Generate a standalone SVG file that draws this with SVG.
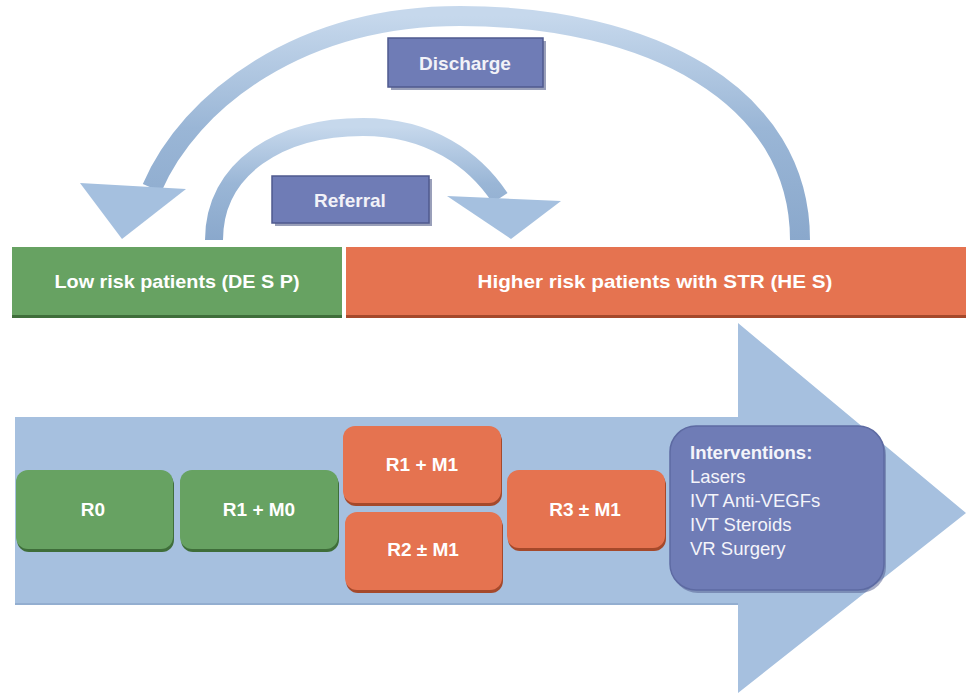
<svg xmlns="http://www.w3.org/2000/svg" width="966" height="695" viewBox="0 0 966 695">
<defs>
<style>
.lbl{font-family:"Liberation Sans",Arial,sans-serif;font-weight:bold;fill:#ffffff;text-anchor:middle;dominant-baseline:central}
.tag{font-family:"Liberation Sans",Arial,sans-serif;font-weight:bold;fill:#f2f2f8;text-anchor:middle;dominant-baseline:central;font-size:19px}
.green{fill:#67a262}
.greenS{fill:#3f6e3a}
.orange{fill:#e57350}
.orangeS{fill:#a5492b}
.purple{fill:#6f7cb6;stroke:#4f5a8e;stroke-width:1.5}
.arc{fill:none;stroke:url(#arcg);stroke-width:20}
.head{fill:#a5c0df}
.iv{font-family:"Liberation Sans",Arial,sans-serif;fill:#f4f4fa;font-size:18.5px}
</style>
<linearGradient id="arcg" x1="0" y1="0" x2="0" y2="1">
<stop offset="0" stop-color="#c6d8ec"/>
<stop offset="0.5" stop-color="#9ab6d6"/>
<stop offset="1" stop-color="#8aa8cc"/>
</linearGradient>
</defs>
<rect width="966" height="695" fill="#ffffff"/>

<g id="connectors">
<path class="arc" d="M 800 240 C 800 95 650 16 460 16 C 300 16 190 100 152 188"/>
<polygon class="head" points="80,183 186,189 122,239"/>
<path class="arc" style="stroke-width:18" d="M 214 240 C 214 168 280 127 363 127 C 430 127 475 160 500 198"/>
<polygon class="head" points="447,196 561,201 511,239"/>
</g>

<g id="discharge">
<rect x="391" y="41" width="155" height="49" fill="#555f8a" opacity="0.6"/>
<rect x="388" y="38" width="155" height="49" class="purple"/>
<text class="tag" x="465" y="63">Discharge</text>
</g>
<g id="referral">
<rect x="275" y="179" width="157" height="47" fill="#555f8a" opacity="0.6"/>
<rect x="272" y="176" width="157" height="47" class="purple"/>
<text class="tag" x="350" y="200">Referral</text>
</g>

<g id="low-risk">
<rect x="12" y="250" width="330" height="68" class="greenS"/>
<rect x="12" y="247" width="330" height="68" class="green"/>
<text class="lbl" x="177" y="281" font-size="19" textLength="245" lengthAdjust="spacingAndGlyphs">Low risk patients (DE S P)</text>
</g>
<g id="higher-risk">
<rect x="346" y="250" width="620" height="68" class="orangeS"/>
<rect x="346" y="247" width="620" height="68" class="orange"/>
<text class="lbl" x="655" y="281" font-size="19" textLength="355" lengthAdjust="spacingAndGlyphs">Higher risk patients with STR (HE S)</text>
</g>

<g id="pathway-arrow">
<polygon points="15,417 738,417 738,323 966,513 738,693 738,604 15,604" fill="#a6c0df"/>
<line x1="15" y1="604" x2="738" y2="604" stroke="#93aed0" stroke-width="2"/>
</g>

<g id="r0">
<rect x="17" y="473" width="157" height="79" rx="12" class="greenS"/>
<rect x="16" y="470" width="157" height="79" rx="12" class="green"/>
<text class="lbl" x="93" y="509" font-size="19">R0</text>
</g>
<g id="r1m0">
<rect x="181" y="473" width="158" height="79" rx="12" class="greenS"/>
<rect x="180" y="470" width="158" height="79" rx="12" class="green"/>
<text class="lbl" x="259" y="509" font-size="19">R1 + M0</text>
</g>
<g id="r1m1">
<rect x="344" y="429" width="158" height="77" rx="12" class="orangeS"/>
<rect x="343" y="426" width="158" height="77" rx="12" class="orange"/>
<text class="lbl" x="422" y="464" font-size="19">R1 + M1</text>
</g>
<g id="r2m1">
<rect x="346" y="515" width="157" height="78" rx="12" class="orangeS"/>
<rect x="345" y="512" width="157" height="78" rx="12" class="orange"/>
<text class="lbl" x="423" y="549" font-size="19">R2 ± M1</text>
</g>
<g id="r3m1">
<rect x="508" y="473" width="158" height="78" rx="12" class="orangeS"/>
<rect x="507" y="470" width="158" height="78" rx="12" class="orange"/>
<text class="lbl" x="585" y="509" font-size="19">R3 ± M1</text>
</g>

<g id="interventions">
<rect x="672" y="429" width="214" height="164" rx="26" fill="#4f5a8e" opacity="0.5"/>
<rect x="670" y="426" width="214" height="164" rx="26" fill="#6f7cb6" stroke="#5d6aa2" stroke-width="1.5"/>
<text class="iv" x="690" y="459" font-weight="bold">Interventions:</text>
<text class="iv" x="690" y="483">Lasers</text>
<text class="iv" x="690" y="507">IVT Anti-VEGFs</text>
<text class="iv" x="690" y="531">IVT Steroids</text>
<text class="iv" x="690" y="555">VR Surgery</text>
</g>
</svg>
